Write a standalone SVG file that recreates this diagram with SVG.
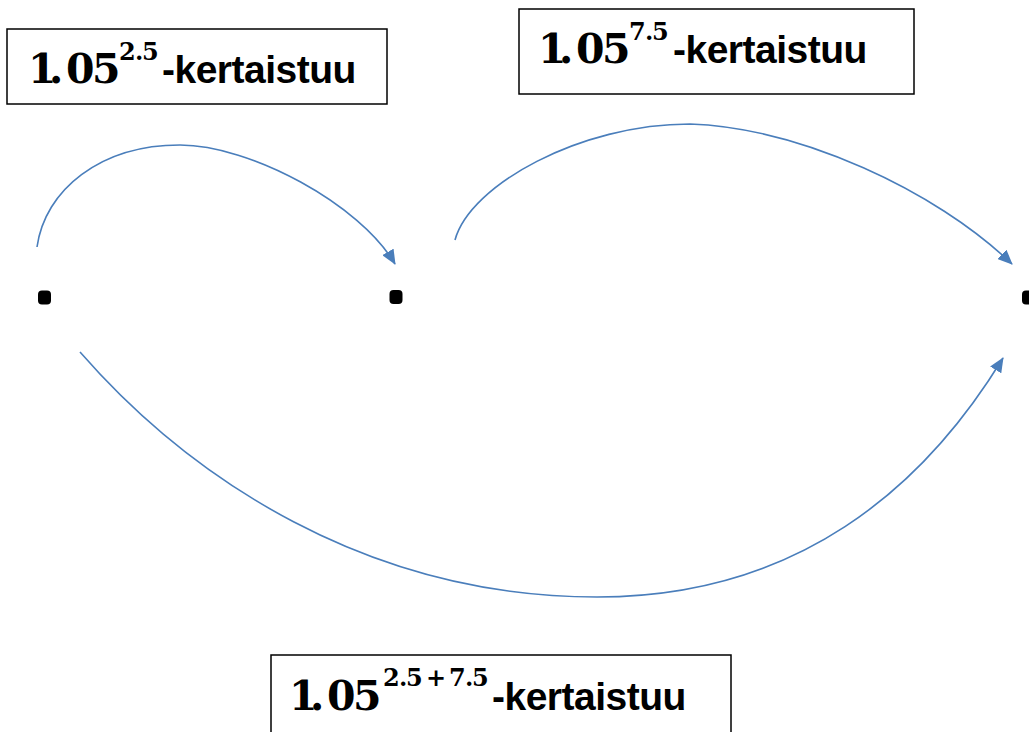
<svg xmlns="http://www.w3.org/2000/svg" width="1029" height="732" viewBox="0 0 1029 732">
<style>
.box{fill:#fff;stroke:#000;stroke-width:1.5}
.m{font-family:"DejaVu Serif","Liberation Serif",serif;font-weight:bold;font-size:41px}
.sup{font-family:"DejaVu Serif","Liberation Serif",serif;font-weight:bold;font-size:24px}
.w{font-family:"Liberation Sans",Arial,sans-serif;font-weight:bold;font-size:39px;letter-spacing:-0.5px}
.conn{fill:none;stroke:#4A7EBB;stroke-width:1.6}
.dot{fill:#000}
</style>
<defs>
<marker id="ah" markerUnits="userSpaceOnUse" viewBox="0 0 15 13" markerWidth="15" markerHeight="13" refX="14" refY="6.5" orient="auto">
<path d="M0,0 L15,6.5 L0,13 z" fill="#4A7EBB"/>
</marker>
</defs>
<rect width="1029" height="732" fill="#fff"/>
<g id="connectors">
<path class="conn" marker-end="url(#ah)" d="M37,247 C45,190 100,145 180,145 C250,145 360,204 395,264"/>
<path class="conn" marker-end="url(#ah)" d="M455,240 C470,185 580,124 690,124 C800,128 935,190 1012,264"/>
<path class="conn" marker-end="url(#ah)" d="M80,352 C190,478 367,597 597,597 C797,597 923,489 1003,358"/>
</g>
<g id="dot1"><rect class="dot" x="38" y="290.5" width="13" height="14" rx="4"/></g>
<g id="dot2"><rect class="dot" x="389.5" y="290" width="13" height="14" rx="4"/></g>
<g id="dot3"><rect class="dot" x="1022" y="290.5" width="13" height="14" rx="4"/></g>
<g id="label1">
<rect class="box" x="7" y="29" width="380" height="75"/>
<text y="83"><tspan class="m" x="28 49">1.</tspan><tspan class="m" x="66 92">05</tspan><tspan class="sup" x="119 135 142" y="60">2.5</tspan><tspan class="w" x="162" y="83">-kertaistuu</tspan></text>
</g>
<g id="label2">
<rect class="box" x="519" y="9" width="395" height="85"/>
<text y="63"><tspan class="m" x="538 559">1.</tspan><tspan class="m" x="576 602">05</tspan><tspan class="sup" x="629 645 652" y="40">7.5</tspan><tspan class="w" x="673" y="63">-kertaistuu</tspan></text>
</g>
<g id="label3">
<rect class="box" x="271" y="655" width="460" height="90"/>
<text y="710"><tspan class="m" x="289 310">1.</tspan><tspan class="m" x="327 353">05</tspan><tspan class="sup" x="383 399 406 426 449 465 472" y="686">2.5+7.5</tspan><tspan class="w" x="492" y="710">-kertaistuu</tspan></text>
</g>
</svg>
